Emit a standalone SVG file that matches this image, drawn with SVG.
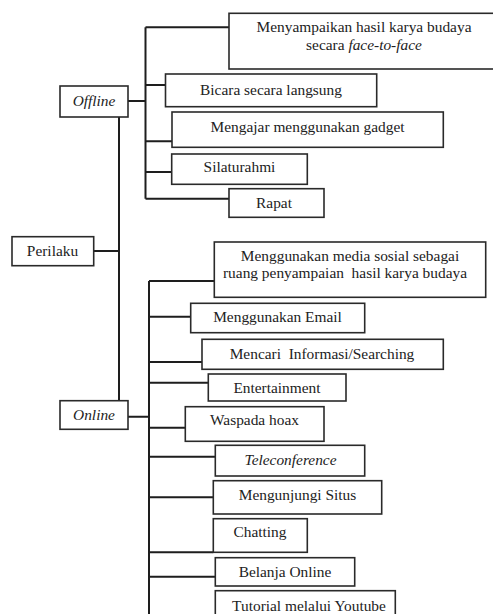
<svg xmlns="http://www.w3.org/2000/svg" width="493" height="614" viewBox="0 0 493 614">
<style>
.box{fill:#fff;stroke:#2a2a2a;stroke-width:1.6}
.ln{fill:none;stroke:#1e1e1e;stroke-width:2}
text{font-family:"Liberation Serif","Times New Roman",serif;font-size:15.4px;fill:#222;text-anchor:middle}
.it{font-style:italic}
</style>
<rect width="493" height="614" fill="#fff"/>
<g id="connectors">
<path class="ln" d="M119 117V401M94 251H119"/>
<path class="ln" d="M128 101H145.5M145.5 27.3V198.7M145.5 27.3H229M145.5 85H165.5M145.5 141.3H172M145.5 172H171.7M145.5 198.7H229"/>
<path class="ln" d="M128 416.7H149M149 281V614M149 281H214.3M149 316.7H190.7M149 362H202M149 382.7H208.3M149 427.7H185.3M149 456.7H215.3M149 497.3H213.3M149 552.3H213.3M149 576.7H215.3"/>
</g>
<g id="perilaku"><rect class="box" x="12" y="236.7" width="81.7" height="29"/><text x="52.5" y="256">Perilaku</text></g>
<g id="offline"><rect class="box" x="60" y="86" width="68" height="31"/><text class="it" x="94" y="106">Offline</text></g>
<g id="online"><rect class="box" x="60" y="400.7" width="68" height="28.6"/><text class="it" x="94" y="420">Online</text></g>
<g id="off1"><rect class="box" x="229" y="13.3" width="266" height="55.7"/><text x="364" y="32">Menyampaikan hasil karya budaya</text><text x="364" y="50">secara <tspan class="it">face-to-face</tspan></text></g>
<g id="off2"><rect class="box" x="165.5" y="74" width="211.2" height="32.7"/><text x="271" y="94.5">Bicara secara langsung</text></g>
<g id="off3"><rect class="box" x="172" y="112" width="271.3" height="35.3"/><text x="307.6" y="131.7">Mengajar menggunakan gadget</text></g>
<g id="off4"><rect class="box" x="171.7" y="154" width="135.6" height="30.3"/><text x="239.5" y="172.3">Silaturahmi</text></g>
<g id="off5"><rect class="box" x="229" y="188.7" width="95" height="28.6"/><text x="274" y="208">Rapat</text></g>
<g id="on1"><rect class="box" x="214.3" y="242" width="271.4" height="55.3"/><text x="350" y="260.5">Menggunakan media sosial sebagai</text><text x="345" y="277.5" xml:space="preserve">ruang penyampaian  hasil karya budaya</text></g>
<g id="on2"><rect class="box" x="190.7" y="303.3" width="174" height="29.4"/><text x="277.5" y="322">Menggunakan Email</text></g>
<g id="on3"><rect class="box" x="202" y="339.3" width="241.3" height="30"/><text x="322" y="359" xml:space="preserve">Mencari  Informasi/Searching</text></g>
<g id="on4"><rect class="box" x="208.3" y="374" width="137.7" height="27"/><text x="277" y="392.5">Entertainment</text></g>
<g id="on5"><rect class="box" x="185.3" y="406.7" width="138.7" height="34.6"/><text x="254.5" y="425">Waspada hoax</text></g>
<g id="on6"><rect class="box" x="215.3" y="445.3" width="149.4" height="30.7"/><text class="it" x="290.5" y="465">Teleconference</text></g>
<g id="on7"><rect class="box" x="213.3" y="480.7" width="168.4" height="33.3"/><text x="297.5" y="500">Mengunjungi Situs</text></g>
<g id="on8"><rect class="box" x="213.3" y="518.7" width="94" height="33.6"/><text x="260" y="537">Chatting</text></g>
<g id="on9"><rect class="box" x="215.3" y="557.7" width="139.4" height="28.3"/><text x="285" y="577">Belanja Online</text></g>
<g id="on10"><rect class="box" x="215.3" y="590.7" width="180" height="30"/><text x="309" y="611">Tutorial melalui Youtube</text></g>
</svg>
